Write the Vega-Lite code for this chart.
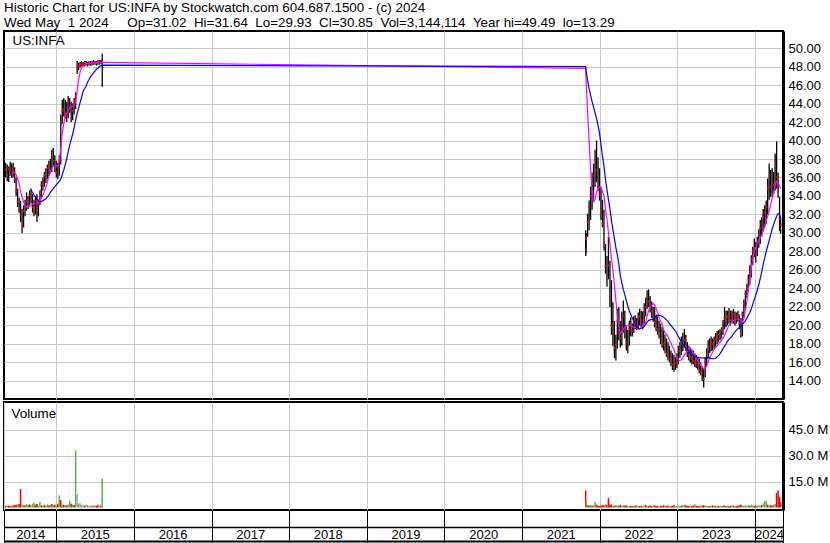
{
  "$schema": "https://vega.github.io/schema/vega-lite/v6.json",
  "background": "white",
  "padding": {"left": 2, "top": 0, "right": 0, "bottom": 0},
  "title": {
    "text": ["Historic Chart for US:INFA by Stockwatch.com 604.687.1500 - (c) 2024", "\u00a0Wed May \u00a01 2024 \u00a0\u00a0\u00a0\u00a0Op=31.02 \u00a0Hi=31.64 \u00a0Lo=29.93 \u00a0Cl=30.85 \u00a0Vol=3,144,114 \u00a0Year hi=49.49 \u00a0lo=13.29"],
    "anchor": "start", "frame": "group", "font": "Liberation Sans", "fontSize": 13.4, "fontWeight": "normal", "color": "black", "lineHeight": 15, "offset": 1
  },
  "config": {
    "view": {"stroke": "black", "strokeWidth": 2, "fill": "white"},
    "axis": {"labelFont": "Liberation Sans", "labelFontSize": 13, "labelColor": "black", "titleFont": "Liberation Sans", "titleFontSize": 13, "titleFontWeight": "normal", "titleColor": "black", "gridColor": "#c8c8c8", "gridOpacity": 1, "gridWidth": 1, "tickColor": "black", "domainColor": "black"}
  },
  "datasets": {
    "p": [
      {"d":"2014-05-09","h":37.6,"l":36.0,"c":36.8,"m":null,"b":null,"v":1.0,"k":"r"},
      {"d":"2014-05-16","h":37.4,"l":35.6,"c":36.2,"m":null,"b":null,"v":0.9,"k":"g"},
      {"d":"2014-05-23","h":37.2,"l":35.5,"c":36.9,"m":null,"b":null,"v":1.1,"k":"r"},
      {"d":"2014-05-30","h":37.7,"l":36.2,"c":37.0,"m":null,"b":null,"v":0.8,"k":"r"},
      {"d":"2014-06-06","h":37.5,"l":36.0,"c":36.4,"m":36.6,"b":null,"v":1.2,"k":"g"},
      {"d":"2014-06-13","h":37.6,"l":36.0,"c":36.8,"m":36.6,"b":null,"v":1.0,"k":"r"},
      {"d":"2014-06-20","h":37.1,"l":35.4,"c":35.8,"m":36.5,"b":null,"v":1.4,"k":"r"},
      {"d":"2014-06-27","h":36.0,"l":34.0,"c":34.5,"m":36.3,"b":null,"v":1.6,"k":"r"},
      {"d":"2014-07-04","h":34.8,"l":32.8,"c":33.4,"m":35.9,"b":null,"v":1.8,"k":"g"},
      {"d":"2014-07-11","h":33.8,"l":32.2,"c":32.6,"m":35.3,"b":null,"v":2.0,"k":"r"},
      {"d":"2014-07-18","h":33.5,"l":31.2,"c":32.0,"m":34.5,"b":null,"v":10.6,"k":"r"},
      {"d":"2014-07-25","h":32.6,"l":30.0,"c":30.8,"m":33.9,"b":null,"v":1.8,"k":"g"},
      {"d":"2014-08-01","h":33.0,"l":30.6,"c":32.4,"m":33.3,"b":null,"v":1.5,"k":"g"},
      {"d":"2014-08-08","h":33.6,"l":31.8,"c":33.0,"m":33.0,"b":null,"v":1.2,"k":"r"},
      {"d":"2014-08-15","h":34.4,"l":32.4,"c":33.5,"m":32.8,"b":null,"v":2.0,"k":"g"},
      {"d":"2014-08-22","h":34.0,"l":32.6,"c":33.2,"m":32.8,"b":null,"v":1.5,"k":"g"},
      {"d":"2014-08-29","h":34.6,"l":33.0,"c":34.1,"m":32.9,"b":null,"v":1.8,"k":"r"},
      {"d":"2014-09-05","h":34.8,"l":33.2,"c":33.8,"m":33.0,"b":34.6,"v":1.3,"k":"g"},
      {"d":"2014-09-12","h":34.2,"l":32.2,"c":32.8,"m":33.1,"b":34.4,"v":2.2,"k":"g"},
      {"d":"2014-09-19","h":33.6,"l":31.8,"c":32.5,"m":33.2,"b":34.1,"v":2.8,"k":"g"},
      {"d":"2014-09-26","h":34.0,"l":32.0,"c":33.5,"m":33.2,"b":33.9,"v":1.7,"k":"r"},
      {"d":"2014-10-03","h":34.2,"l":31.2,"c":32.2,"m":33.2,"b":33.7,"v":2.0,"k":"r"},
      {"d":"2014-10-10","h":33.6,"l":31.8,"c":33.2,"m":33.3,"b":33.5,"v":1.0,"k":"g"},
      {"d":"2014-10-17","h":34.6,"l":33.0,"c":34.0,"m":33.5,"b":33.4,"v":3.3,"k":"g"},
      {"d":"2014-10-24","h":35.6,"l":33.8,"c":35.2,"m":33.8,"b":33.4,"v":1.2,"k":"r"},
      {"d":"2014-10-31","h":36.0,"l":34.6,"c":35.4,"m":34.1,"b":33.5,"v":1.0,"k":"g"},
      {"d":"2014-11-07","h":36.6,"l":35.0,"c":36.2,"m":34.5,"b":33.6,"v":1.4,"k":"r"},
      {"d":"2014-11-14","h":37.0,"l":35.4,"c":36.0,"m":35.0,"b":33.7,"v":1.1,"k":"g"},
      {"d":"2014-11-21","h":37.4,"l":35.8,"c":37.0,"m":35.5,"b":33.9,"v":1.8,"k":"g"},
      {"d":"2014-11-28","h":37.8,"l":36.2,"c":37.2,"m":36.1,"b":34.1,"v":1.2,"k":"r"},
      {"d":"2014-12-05","h":38.0,"l":36.4,"c":36.8,"m":36.6,"b":34.4,"v":1.5,"k":"g"},
      {"d":"2014-12-12","h":39.0,"l":36.6,"c":38.2,"m":37.0,"b":34.6,"v":2.0,"k":"r"},
      {"d":"2014-12-19","h":39.2,"l":37.2,"c":37.8,"m":37.2,"b":34.8,"v":1.3,"k":"g"},
      {"d":"2014-12-26","h":38.4,"l":36.6,"c":37.2,"m":37.3,"b":35.0,"v":1.6,"k":"r"},
      {"d":"2015-01-02","h":37.8,"l":36.0,"c":36.6,"m":37.3,"b":35.2,"v":1.2,"k":"g"},
      {"d":"2015-01-09","h":37.6,"l":35.8,"c":36.4,"m":37.2,"b":35.4,"v":2.2,"k":"r"},
      {"d":"2015-01-16","h":38.4,"l":36.2,"c":37.8,"m":37.6,"b":35.6,"v":6.9,"k":"g"},
      {"d":"2015-01-23","h":42.8,"l":37.4,"c":42.0,"m":39.2,"b":35.8,"v":4.4,"k":"r"},
      {"d":"2015-01-30","h":44.4,"l":41.8,"c":43.2,"m":40.8,"b":36.3,"v":1.8,"k":"g"},
      {"d":"2015-02-06","h":44.6,"l":42.6,"c":43.4,"m":41.8,"b":36.8,"v":1.5,"k":"r"},
      {"d":"2015-02-13","h":44.4,"l":42.4,"c":43.0,"m":42.6,"b":37.4,"v":1.4,"k":"g"},
      {"d":"2015-02-20","h":44.2,"l":42.0,"c":42.6,"m":43.0,"b":38.0,"v":1.2,"k":"r"},
      {"d":"2015-02-27","h":44.8,"l":42.4,"c":44.2,"m":43.3,"b":38.8,"v":1.8,"k":"g"},
      {"d":"2015-03-06","h":44.6,"l":43.0,"c":43.6,"m":43.5,"b":39.5,"v":4.0,"k":"g"},
      {"d":"2015-03-13","h":44.2,"l":42.0,"c":42.4,"m":43.6,"b":40.1,"v":2.2,"k":"r"},
      {"d":"2015-03-20","h":44.0,"l":42.2,"c":43.2,"m":43.7,"b":40.7,"v":1.6,"k":"g"},
      {"d":"2015-03-27","h":44.6,"l":42.8,"c":44.2,"m":43.8,"b":41.4,"v":1.4,"k":"r"},
      {"d":"2015-04-03","h":45.2,"l":43.4,"c":44.8,"m":44.2,"b":42.2,"v":33.0,"k":"g"},
      {"d":"2015-04-10","h":48.6,"l":47.2,"c":47.9,"m":45.4,"b":42.9,"v":7.6,"k":"a"},
      {"d":"2015-04-17","h":48.4,"l":47.6,"c":48.0,"m":46.6,"b":43.5,"v":2.3,"k":"g"},
      {"d":"2015-04-24","h":48.5,"l":47.9,"c":48.2,"m":47.4,"b":44.1,"v":2.4,"k":"a"},
      {"d":"2015-05-01","h":48.6,"l":48.0,"c":48.3,"m":47.9,"b":44.7,"v":1.6,"k":"g"},
      {"d":"2015-05-08","h":48.5,"l":48.0,"c":48.2,"m":48.1,"b":45.3,"v":1.2,"k":"a"},
      {"d":"2015-05-15","h":48.6,"l":48.0,"c":48.4,"m":48.2,"b":45.6,"v":1.0,"k":"r"},
      {"d":"2015-05-22","h":48.6,"l":48.1,"c":48.3,"m":48.3,"b":45.9,"v":1.6,"k":"a"},
      {"d":"2015-05-29","h":48.5,"l":48.0,"c":48.3,"m":48.3,"b":46.3,"v":1.4,"k":"g"},
      {"d":"2015-06-05","h":48.6,"l":48.1,"c":48.4,"m":48.35,"b":46.6,"v":0.9,"k":"a"},
      {"d":"2015-06-12","h":48.6,"l":48.1,"c":48.3,"m":48.35,"b":46.9,"v":1.2,"k":"a"},
      {"d":"2015-06-19","h":48.6,"l":48.1,"c":48.4,"m":48.4,"b":47.1,"v":0.8,"k":"r"},
      {"d":"2015-06-26","h":48.7,"l":48.2,"c":48.4,"m":48.4,"b":47.3,"v":1.4,"k":"a"},
      {"d":"2015-07-03","h":48.6,"l":48.2,"c":48.4,"m":48.4,"b":47.5,"v":1.2,"k":"a"},
      {"d":"2015-07-10","h":48.6,"l":48.1,"c":48.4,"m":48.4,"b":47.7,"v":1.0,"k":"r"},
      {"d":"2015-07-17","h":48.7,"l":48.2,"c":48.5,"m":48.45,"b":47.8,"v":1.4,"k":"r"},
      {"d":"2015-07-24","h":48.7,"l":48.2,"c":48.5,"m":48.45,"b":48.0,"v":0.9,"k":"a"},
      {"d":"2015-07-31","h":48.7,"l":48.3,"c":48.5,"m":48.45,"b":48.1,"v":1.2,"k":"r"},
      {"d":"2015-08-06","h":49.4,"l":45.8,"c":48.5,"m":48.45,"b":48.15,"v":16.6,"k":"g"},
      {"d":"2021-10-27","h":30.3,"l":27.5,"c":28.2,"m":47.8,"b":48.0,"v":9.8,"k":"r"},
      {"d":"2021-10-29","h":30.0,"l":27.8,"c":29.4,"m":46.4,"b":47.5,"v":3.3,"k":"g"},
      {"d":"2021-11-05","h":32.1,"l":29.6,"c":31.2,"m":43.0,"b":46.5,"v":1.6,"k":"g"},
      {"d":"2021-11-12","h":33.5,"l":30.3,"c":32.8,"m":40.0,"b":45.6,"v":1.2,"k":"r"},
      {"d":"2021-11-19","h":35.0,"l":31.4,"c":34.0,"m":37.0,"b":44.9,"v":1.4,"k":"g"},
      {"d":"2021-11-26","h":36.5,"l":32.5,"c":35.5,"m":34.8,"b":44.2,"v":1.0,"k":"r"},
      {"d":"2021-12-03","h":37.5,"l":33.5,"c":36.2,"m":33.4,"b":43.6,"v":1.3,"k":"g"},
      {"d":"2021-12-10","h":39.0,"l":35.0,"c":37.8,"m":33.6,"b":43.0,"v":3.3,"k":"g"},
      {"d":"2021-12-17","h":40.0,"l":35.5,"c":36.8,"m":34.4,"b":42.4,"v":1.6,"k":"r"},
      {"d":"2021-12-24","h":38.2,"l":34.5,"c":35.6,"m":34.8,"b":41.6,"v":1.0,"k":"r"},
      {"d":"2021-12-31","h":37.0,"l":33.5,"c":34.2,"m":35.0,"b":40.8,"v":0.8,"k":"r"},
      {"d":"2022-01-07","h":35.0,"l":31.4,"c":32.2,"m":34.9,"b":39.5,"v":1.2,"k":"r"},
      {"d":"2022-01-14","h":33.6,"l":30.6,"c":31.0,"m":34.5,"b":38.3,"v":1.4,"k":"r"},
      {"d":"2022-01-21","h":32.5,"l":28.1,"c":28.8,"m":34.0,"b":37.2,"v":1.3,"k":"r"},
      {"d":"2022-01-28","h":28.8,"l":25.6,"c":26.4,"m":32.6,"b":35.8,"v":1.8,"k":"g"},
      {"d":"2022-02-04","h":27.5,"l":24.2,"c":25.2,"m":31.5,"b":34.7,"v":1.5,"k":"r"},
      {"d":"2022-02-11","h":29.6,"l":25.0,"c":26.5,"m":30.0,"b":33.6,"v":5.6,"k":"r"},
      {"d":"2022-02-18","h":27.0,"l":22.0,"c":23.0,"m":28.8,"b":32.6,"v":1.6,"k":"r"},
      {"d":"2022-02-25","h":24.9,"l":19.0,"c":20.0,"m":27.3,"b":31.4,"v":1.8,"k":"r"},
      {"d":"2022-03-04","h":22.5,"l":17.8,"c":19.0,"m":26.0,"b":30.4,"v":1.2,"k":"g"},
      {"d":"2022-03-11","h":20.5,"l":16.5,"c":17.6,"m":24.4,"b":29.4,"v":1.0,"k":"r"},
      {"d":"2022-03-18","h":19.0,"l":16.2,"c":18.0,"m":22.7,"b":28.4,"v":1.4,"k":"g"},
      {"d":"2022-03-25","h":21.8,"l":17.5,"c":20.5,"m":21.1,"b":27.6,"v":1.2,"k":"g"},
      {"d":"2022-04-01","h":22.0,"l":18.4,"c":19.2,"m":19.8,"b":26.6,"v":1.0,"k":"r"},
      {"d":"2022-04-08","h":20.5,"l":17.6,"c":18.6,"m":19.1,"b":25.4,"v":1.5,"k":"r"},
      {"d":"2022-04-15","h":21.5,"l":17.8,"c":20.6,"m":19.3,"b":24.6,"v":1.0,"k":"g"},
      {"d":"2022-04-22","h":22.7,"l":19.2,"c":21.0,"m":19.6,"b":23.9,"v":1.3,"k":"g"},
      {"d":"2022-04-29","h":21.6,"l":18.6,"c":19.4,"m":19.8,"b":23.3,"v":1.1,"k":"r"},
      {"d":"2022-05-06","h":20.0,"l":17.3,"c":18.2,"m":19.9,"b":22.7,"v":1.2,"k":"r"},
      {"d":"2022-05-13","h":19.5,"l":17.0,"c":17.8,"m":20.0,"b":22.1,"v":1.0,"k":"g"},
      {"d":"2022-05-20","h":20.5,"l":17.8,"c":19.6,"m":20.0,"b":21.6,"v":0.9,"k":"g"},
      {"d":"2022-05-27","h":20.9,"l":18.8,"c":20.0,"m":20.0,"b":21.2,"v":1.0,"k":"r"},
      {"d":"2022-06-03","h":20.2,"l":18.8,"c":19.4,"m":19.9,"b":20.8,"v":0.8,"k":"r"},
      {"d":"2022-06-10","h":21.0,"l":19.2,"c":20.3,"m":19.8,"b":20.5,"v":1.1,"k":"g"},
      {"d":"2022-06-17","h":21.1,"l":19.6,"c":20.4,"m":19.8,"b":20.2,"v":1.0,"k":"r"},
      {"d":"2022-06-24","h":20.8,"l":19.5,"c":20.0,"m":19.7,"b":19.9,"v":1.3,"k":"g"},
      {"d":"2022-07-01","h":21.4,"l":19.7,"c":20.8,"m":19.6,"b":19.7,"v":0.8,"k":"g"},
      {"d":"2022-07-08","h":21.8,"l":20.0,"c":21.0,"m":19.6,"b":19.65,"v":0.9,"k":"r"},
      {"d":"2022-07-15","h":21.6,"l":19.8,"c":20.6,"m":19.8,"b":19.7,"v":1.0,"k":"r"},
      {"d":"2022-07-22","h":21.5,"l":19.6,"c":20.2,"m":20.0,"b":19.75,"v":0.8,"k":"g"},
      {"d":"2022-07-29","h":22.4,"l":20.2,"c":21.6,"m":20.1,"b":19.9,"v":1.2,"k":"g"},
      {"d":"2022-08-05","h":23.0,"l":21.0,"c":22.0,"m":20.3,"b":20.1,"v":1.4,"k":"r"},
      {"d":"2022-08-12","h":23.8,"l":21.8,"c":23.2,"m":21.0,"b":20.35,"v":1.0,"k":"g"},
      {"d":"2022-08-19","h":23.9,"l":22.0,"c":22.6,"m":21.6,"b":20.55,"v":0.9,"k":"r"},
      {"d":"2022-08-26","h":23.2,"l":21.4,"c":22.0,"m":22.0,"b":20.6,"v":1.1,"k":"r"},
      {"d":"2022-09-02","h":22.6,"l":20.8,"c":21.6,"m":22.2,"b":20.65,"v":0.8,"k":"r"},
      {"d":"2022-09-09","h":22.0,"l":20.4,"c":21.0,"m":22.4,"b":20.7,"v":1.0,"k":"g"},
      {"d":"2022-09-16","h":22.0,"l":19.8,"c":20.4,"m":22.2,"b":20.85,"v":1.2,"k":"r"},
      {"d":"2022-09-23","h":21.2,"l":19.4,"c":20.0,"m":21.8,"b":21.0,"v":0.9,"k":"r"},
      {"d":"2022-09-30","h":21.0,"l":19.0,"c":19.6,"m":21.4,"b":21.1,"v":1.0,"k":"r"},
      {"d":"2022-10-07","h":20.5,"l":18.6,"c":19.2,"m":20.9,"b":21.1,"v":0.8,"k":"g"},
      {"d":"2022-10-14","h":20.2,"l":18.0,"c":18.6,"m":20.5,"b":21.05,"v":1.1,"k":"r"},
      {"d":"2022-10-21","h":19.8,"l":17.6,"c":18.2,"m":20.2,"b":21.0,"v":0.9,"k":"r"},
      {"d":"2022-10-28","h":19.5,"l":17.3,"c":18.0,"m":19.6,"b":20.9,"v":1.3,"k":"r"},
      {"d":"2022-11-04","h":19.0,"l":17.0,"c":17.6,"m":19.2,"b":20.75,"v":1.0,"k":"g"},
      {"d":"2022-11-11","h":18.6,"l":16.6,"c":17.0,"m":19.0,"b":20.6,"v":0.9,"k":"r"},
      {"d":"2022-11-18","h":18.2,"l":16.2,"c":16.8,"m":18.8,"b":20.45,"v":1.2,"k":"r"},
      {"d":"2022-11-25","h":17.8,"l":16.0,"c":16.4,"m":18.4,"b":20.2,"v":0.7,"k":"g"},
      {"d":"2022-12-02","h":17.3,"l":15.6,"c":16.0,"m":18.1,"b":20.0,"v":0.9,"k":"r"},
      {"d":"2022-12-09","h":17.0,"l":15.2,"c":15.8,"m":17.7,"b":19.8,"v":1.0,"k":"r"},
      {"d":"2022-12-16","h":16.8,"l":15.0,"c":15.6,"m":17.4,"b":19.6,"v":1.4,"k":"r"},
      {"d":"2022-12-23","h":16.6,"l":15.2,"c":15.9,"m":16.9,"b":19.4,"v":0.7,"k":"g"},
      {"d":"2022-12-30","h":17.0,"l":15.4,"c":16.3,"m":16.5,"b":19.1,"v":0.8,"k":"g"},
      {"d":"2023-01-06","h":17.8,"l":15.8,"c":17.2,"m":16.3,"b":18.8,"v":1.1,"k":"g"},
      {"d":"2023-01-13","h":18.2,"l":16.5,"c":17.6,"m":16.2,"b":18.5,"v":0.9,"k":"g"},
      {"d":"2023-01-20","h":18.8,"l":16.8,"c":18.0,"m":16.3,"b":18.2,"v":1.0,"k":"r"},
      {"d":"2023-01-27","h":19.2,"l":17.2,"c":18.5,"m":16.5,"b":17.95,"v":1.2,"k":"g"},
      {"d":"2023-02-03","h":19.6,"l":17.6,"c":18.4,"m":16.8,"b":17.7,"v":1.6,"k":"g"},
      {"d":"2023-02-10","h":19.0,"l":17.2,"c":17.8,"m":17.0,"b":17.5,"v":1.3,"k":"r"},
      {"d":"2023-02-17","h":18.2,"l":16.6,"c":17.2,"m":17.3,"b":17.35,"v":0.9,"k":"r"},
      {"d":"2023-02-24","h":17.8,"l":16.2,"c":16.8,"m":17.6,"b":17.2,"v":1.0,"k":"r"},
      {"d":"2023-03-03","h":17.6,"l":16.0,"c":16.6,"m":17.6,"b":17.0,"v":0.8,"k":"g"},
      {"d":"2023-03-10","h":17.4,"l":15.8,"c":16.4,"m":17.3,"b":16.85,"v":0.9,"k":"r"},
      {"d":"2023-03-17","h":17.3,"l":15.8,"c":16.2,"m":17.0,"b":16.75,"v":1.2,"k":"r"},
      {"d":"2023-03-24","h":17.0,"l":15.5,"c":16.0,"m":16.7,"b":16.65,"v":1.9,"k":"g"},
      {"d":"2023-03-31","h":16.8,"l":15.4,"c":15.9,"m":16.5,"b":16.6,"v":1.0,"k":"r"},
      {"d":"2023-04-07","h":16.6,"l":15.2,"c":15.6,"m":16.2,"b":16.55,"v":0.8,"k":"r"},
      {"d":"2023-04-14","h":16.4,"l":14.8,"c":15.2,"m":15.9,"b":16.5,"v":0.9,"k":"r"},
      {"d":"2023-04-21","h":16.0,"l":14.6,"c":15.0,"m":15.7,"b":16.5,"v":1.1,"k":"g"},
      {"d":"2023-04-28","h":15.6,"l":14.0,"c":14.8,"m":15.5,"b":16.5,"v":1.0,"k":"r"},
      {"d":"2023-05-05","h":15.4,"l":13.3,"c":14.2,"m":15.3,"b":16.5,"v":1.3,"k":"r"},
      {"d":"2023-05-12","h":16.6,"l":14.4,"c":16.0,"m":15.3,"b":16.45,"v":1.1,"k":"g"},
      {"d":"2023-05-19","h":17.5,"l":15.6,"c":17.0,"m":15.7,"b":16.5,"v":0.9,"k":"g"},
      {"d":"2023-05-26","h":18.4,"l":16.4,"c":17.4,"m":16.1,"b":16.55,"v":1.0,"k":"g"},
      {"d":"2023-06-02","h":18.6,"l":17.0,"c":17.8,"m":16.5,"b":16.5,"v":0.8,"k":"r"},
      {"d":"2023-06-09","h":18.8,"l":17.2,"c":18.2,"m":16.8,"b":16.4,"v":1.0,"k":"g"},
      {"d":"2023-06-16","h":18.6,"l":17.3,"c":18.0,"m":17.1,"b":16.4,"v":1.2,"k":"r"},
      {"d":"2023-06-23","h":18.8,"l":17.5,"c":18.4,"m":17.4,"b":16.4,"v":0.9,"k":"g"},
      {"d":"2023-06-30","h":19.2,"l":17.7,"c":18.6,"m":17.6,"b":16.45,"v":1.0,"k":"r"},
      {"d":"2023-07-07","h":19.4,"l":18.0,"c":18.8,"m":17.8,"b":16.6,"v":0.8,"k":"g"},
      {"d":"2023-07-14","h":19.5,"l":18.2,"c":19.0,"m":18.0,"b":16.75,"v":0.9,"k":"r"},
      {"d":"2023-07-21","h":19.6,"l":18.4,"c":19.2,"m":18.2,"b":16.95,"v":1.1,"k":"g"},
      {"d":"2023-07-28","h":19.8,"l":18.6,"c":19.5,"m":18.4,"b":17.2,"v":0.8,"k":"g"},
      {"d":"2023-08-04","h":20.6,"l":19.0,"c":20.2,"m":18.6,"b":17.5,"v":1.0,"k":"r"},
      {"d":"2023-08-11","h":22.0,"l":19.6,"c":20.8,"m":18.9,"b":17.75,"v":1.4,"k":"g"},
      {"d":"2023-08-18","h":21.6,"l":19.8,"c":20.6,"m":19.3,"b":18.0,"v":0.9,"k":"r"},
      {"d":"2023-08-25","h":21.6,"l":20.0,"c":21.0,"m":19.7,"b":18.3,"v":1.0,"k":"g"},
      {"d":"2023-09-01","h":21.9,"l":20.2,"c":21.2,"m":20.0,"b":18.5,"v":0.8,"k":"r"},
      {"d":"2023-09-08","h":21.6,"l":20.0,"c":20.6,"m":20.2,"b":18.65,"v":0.9,"k":"r"},
      {"d":"2023-09-15","h":21.6,"l":20.2,"c":21.0,"m":20.4,"b":18.85,"v":1.2,"k":"g"},
      {"d":"2023-09-22","h":21.8,"l":20.2,"c":21.2,"m":20.55,"b":19.1,"v":1.0,"k":"r"},
      {"d":"2023-09-29","h":21.5,"l":20.0,"c":20.8,"m":20.6,"b":19.3,"v":0.8,"k":"g"},
      {"d":"2023-10-06","h":21.4,"l":20.2,"c":21.0,"m":20.7,"b":19.5,"v":0.9,"k":"r"},
      {"d":"2023-10-13","h":21.6,"l":20.4,"c":21.0,"m":20.7,"b":19.65,"v":1.1,"k":"r"},
      {"d":"2023-10-20","h":21.2,"l":19.6,"c":20.2,"m":20.7,"b":19.75,"v":1.2,"k":"r"},
      {"d":"2023-10-27","h":20.8,"l":18.7,"c":19.0,"m":20.5,"b":19.9,"v":1.8,"k":"r"},
      {"d":"2023-11-03","h":21.5,"l":18.8,"c":21.2,"m":20.3,"b":20.1,"v":1.3,"k":"g"},
      {"d":"2023-11-10","h":22.8,"l":20.8,"c":22.4,"m":20.8,"b":20.3,"v":1.0,"k":"g"},
      {"d":"2023-11-17","h":23.8,"l":21.8,"c":23.4,"m":21.6,"b":20.5,"v":1.2,"k":"g"},
      {"d":"2023-11-24","h":24.5,"l":23.0,"c":24.0,"m":22.6,"b":20.8,"v":0.8,"k":"g"},
      {"d":"2023-12-01","h":25.5,"l":23.6,"c":25.0,"m":23.8,"b":21.1,"v":1.4,"k":"g"},
      {"d":"2023-12-08","h":26.5,"l":24.4,"c":25.6,"m":24.9,"b":21.4,"v":1.0,"k":"r"},
      {"d":"2023-12-15","h":27.6,"l":25.2,"c":27.2,"m":26.2,"b":21.8,"v":1.6,"k":"g"},
      {"d":"2023-12-22","h":28.5,"l":26.5,"c":28.0,"m":27.3,"b":22.3,"v":1.1,"k":"g"},
      {"d":"2023-12-29","h":29.4,"l":27.4,"c":28.4,"m":28.0,"b":22.8,"v":0.9,"k":"r"},
      {"d":"2024-01-05","h":29.0,"l":26.8,"c":27.8,"m":28.4,"b":23.3,"v":1.2,"k":"r"},
      {"d":"2024-01-12","h":29.6,"l":27.5,"c":29.0,"m":28.8,"b":23.8,"v":1.0,"k":"g"},
      {"d":"2024-01-19","h":30.4,"l":28.4,"c":29.8,"m":29.2,"b":24.4,"v":1.3,"k":"g"},
      {"d":"2024-01-26","h":31.4,"l":28.8,"c":30.5,"m":29.5,"b":25.1,"v":1.1,"k":"g"},
      {"d":"2024-02-02","h":31.7,"l":29.6,"c":31.0,"m":29.8,"b":25.8,"v":1.4,"k":"r"},
      {"d":"2024-02-09","h":32.6,"l":30.2,"c":31.8,"m":30.2,"b":26.6,"v":2.4,"k":"a"},
      {"d":"2024-02-16","h":33.0,"l":30.6,"c":32.2,"m":30.8,"b":27.3,"v":3.9,"k":"g"},
      {"d":"2024-02-23","h":33.5,"l":31.0,"c":32.8,"m":31.3,"b":28.0,"v":3.6,"k":"g"},
      {"d":"2024-03-01","h":35.9,"l":32.0,"c":34.8,"m":31.8,"b":28.6,"v":1.6,"k":"r"},
      {"d":"2024-03-08","h":37.5,"l":33.6,"c":35.8,"m":32.4,"b":29.2,"v":1.2,"k":"g"},
      {"d":"2024-03-15","h":36.8,"l":33.9,"c":35.0,"m":33.1,"b":29.8,"v":1.4,"k":"r"},
      {"d":"2024-03-22","h":37.0,"l":34.0,"c":36.2,"m":33.8,"b":30.4,"v":1.1,"k":"r"},
      {"d":"2024-03-29","h":36.6,"l":34.2,"c":35.2,"m":34.4,"b":30.9,"v":1.6,"k":"g"},
      {"d":"2024-04-05","h":38.6,"l":34.6,"c":37.8,"m":35.2,"b":31.4,"v":2.0,"k":"g"},
      {"d":"2024-04-12","h":39.9,"l":34.8,"c":36.0,"m":35.6,"b":31.8,"v":8.3,"k":"r"},
      {"d":"2024-04-19","h":36.5,"l":33.8,"c":34.6,"m":35.4,"b":32.1,"v":9.8,"k":"r"},
      {"d":"2024-04-26","h":33.9,"l":30.2,"c":31.5,"m":35.1,"b":32.0,"v":6.0,"k":"r"},
      {"d":"2024-05-01","h":31.64,"l":29.93,"c":30.85,"m":34.8,"b":31.6,"v":3.1,"k":"r"}
    ]
  },
  "spacing": 1,
  "vconcat": [
    {
      "width": 779,
      "height": 368,
      "data": {"name": "p"},
      "resolve": {"axis": {"y": "independent", "x": "independent"}},
      "layer": [
        {
          "mark": {"type": "rule", "color": "black", "strokeWidth": 1.3},
          "encoding": {
            "x": {"field": "d", "type": "temporal",
              "scale": {"type": "utc", "domain": [{"year": 2014, "month": 5, "date": 1, "utc": true}, {"year": 2024, "month": 5, "date": 12, "utc": true}]},
              "axis": {"orient": "bottom", "title": null, "labels": false, "ticks": false, "domain": false, "grid": true,
                "values": [{"year": 2015, "month": 1, "date": 1, "utc": true}, {"year": 2016, "month": 1, "date": 1, "utc": true}, {"year": 2017, "month": 1, "date": 1, "utc": true}, {"year": 2018, "month": 1, "date": 1, "utc": true}, {"year": 2019, "month": 1, "date": 1, "utc": true}, {"year": 2020, "month": 1, "date": 1, "utc": true}, {"year": 2021, "month": 1, "date": 1, "utc": true}, {"year": 2022, "month": 1, "date": 1, "utc": true}, {"year": 2023, "month": 1, "date": 1, "utc": true}, {"year": 2024, "month": 1, "date": 1, "utc": true}]}},
            "y": {"field": "l", "type": "quantitative",
              "scale": {"domain": [12.05, 51.84], "nice": false, "zero": false},
              "axis": {"orient": "right", "title": null, "values": [14, 16, 18, 20, 22, 24, 26, 28, 30, 32, 34, 36, 38, 40, 42, 44, 46, 48, 50], "format": ".2f", "grid": true, "ticks": false, "labelPadding": 5, "domain": true, "domainWidth": 3}},
            "y2": {"field": "h"}
          }
        },
        {
          "mark": {"type": "square", "color": "#ff0000", "size": 3, "opacity": 1},
          "encoding": {
            "x": {"field": "d", "type": "temporal", "axis": null},
            "y": {"field": "c", "type": "quantitative",
              "axis": {"orient": "left", "title": "US:INFA", "grid": false, "ticks": false, "labels": false, "domain": false, "titleAngle": 0, "titleX": 8, "titleY": 2, "titleAlign": "left", "titleBaseline": "top", "titleFontSize": 13.4}}
          }
        },
        {
          "mark": {"type": "line", "color": "#ff00ff", "strokeWidth": 1.2},
          "encoding": {
            "x": {"field": "d", "type": "temporal", "axis": null},
            "y": {"field": "m", "type": "quantitative", "axis": null}
          }
        },
        {
          "mark": {"type": "line", "color": "#0000ff", "strokeWidth": 1.2},
          "encoding": {
            "x": {"field": "d", "type": "temporal", "axis": null},
            "y": {"field": "b", "type": "quantitative", "axis": null}
          }
        }
      ]
    },
    {
      "width": 779,
      "height": 108,
      "data": {"name": "p"},
      "resolve": {"axis": {"y": "independent", "x": "independent"}},
      "layer": [
        {
          "mark": {"type": "rule", "strokeWidth": 1.5},
          "encoding": {
            "x": {"field": "d", "type": "temporal",
              "scale": {"type": "utc", "domain": [{"year": 2014, "month": 5, "date": 1, "utc": true}, {"year": 2024, "month": 5, "date": 12, "utc": true}]},
              "axis": {"orient": "bottom", "title": null, "labels": false, "ticks": true, "tickSize": 33, "tickColor": "black", "tickWidth": 1, "domain": false, "grid": true,
                "values": [{"year": 2014, "month": 5, "date": 1, "utc": true}, {"year": 2015, "month": 1, "date": 1, "utc": true}, {"year": 2016, "month": 1, "date": 1, "utc": true}, {"year": 2017, "month": 1, "date": 1, "utc": true}, {"year": 2018, "month": 1, "date": 1, "utc": true}, {"year": 2019, "month": 1, "date": 1, "utc": true}, {"year": 2020, "month": 1, "date": 1, "utc": true}, {"year": 2021, "month": 1, "date": 1, "utc": true}, {"year": 2022, "month": 1, "date": 1, "utc": true}, {"year": 2023, "month": 1, "date": 1, "utc": true}, {"year": 2024, "month": 1, "date": 1, "utc": true}, {"year": 2024, "month": 5, "date": 12, "utc": true}]}},
            "y": {"field": "v", "type": "quantitative",
              "scale": {"domain": [-1.44, 60.87], "nice": false, "zero": false},
              "axis": {"orient": "right", "title": null, "values": [15, 30, 45], "labelExpr": "format(datum.value, '.1f') + ' M'", "grid": true, "ticks": false, "labelPadding": 5, "domain": true, "domainWidth": 3}},
            "y2": {"datum": 0},
            "color": {"field": "k", "type": "nominal", "legend": null,
              "scale": {"domain": ["g", "r", "a"], "range": ["#4cb84c", "#ff0000", "#a0a0a0"]}}
          }
        },
        {
          "mark": {"type": "rule", "strokeWidth": 1, "opacity": 0},
          "encoding": {
            "x": {"field": "d", "type": "temporal",
              "axis": {"orient": "bottom", "title": null, "labels": true, "ticks": false, "grid": false, "domain": true, "domainColor": "black", "domainWidth": 1.5, "offset": 17, "labelPadding": 1, "labelOverlap": false, "labelFontSize": 13,
                "labelExpr": "utcFormat(datum.value, '%Y')",
                "values": [{"year": 2014, "month": 9, "date": 1, "utc": true}, {"year": 2015, "month": 7, "date": 2, "utc": true}, {"year": 2016, "month": 7, "date": 2, "utc": true}, {"year": 2017, "month": 7, "date": 2, "utc": true}, {"year": 2018, "month": 7, "date": 2, "utc": true}, {"year": 2019, "month": 7, "date": 2, "utc": true}, {"year": 2020, "month": 7, "date": 2, "utc": true}, {"year": 2021, "month": 7, "date": 2, "utc": true}, {"year": 2022, "month": 7, "date": 2, "utc": true}, {"year": 2023, "month": 7, "date": 2, "utc": true}, {"year": 2024, "month": 3, "date": 7, "utc": true}]}},
            "y": {"field": "v", "type": "quantitative",
              "axis": {"orient": "left", "title": "Volume", "grid": false, "ticks": false, "labels": false, "domain": false, "titleAngle": 0, "titleX": 7, "titleY": 4, "titleAlign": "left", "titleBaseline": "top", "titleFontSize": 13.4}}
          }
        },
        {
          "mark": {"type": "rule", "strokeWidth": 1, "opacity": 0},
          "encoding": {
            "x": {"field": "d", "type": "temporal",
              "axis": {"orient": "bottom", "title": null, "labels": false, "ticks": false, "grid": false, "domain": true, "domainColor": "black", "domainWidth": 2, "offset": 31}},
            "y": {"field": "v", "type": "quantitative", "axis": null}
          }
        }
      ]
    }
  ]
}
